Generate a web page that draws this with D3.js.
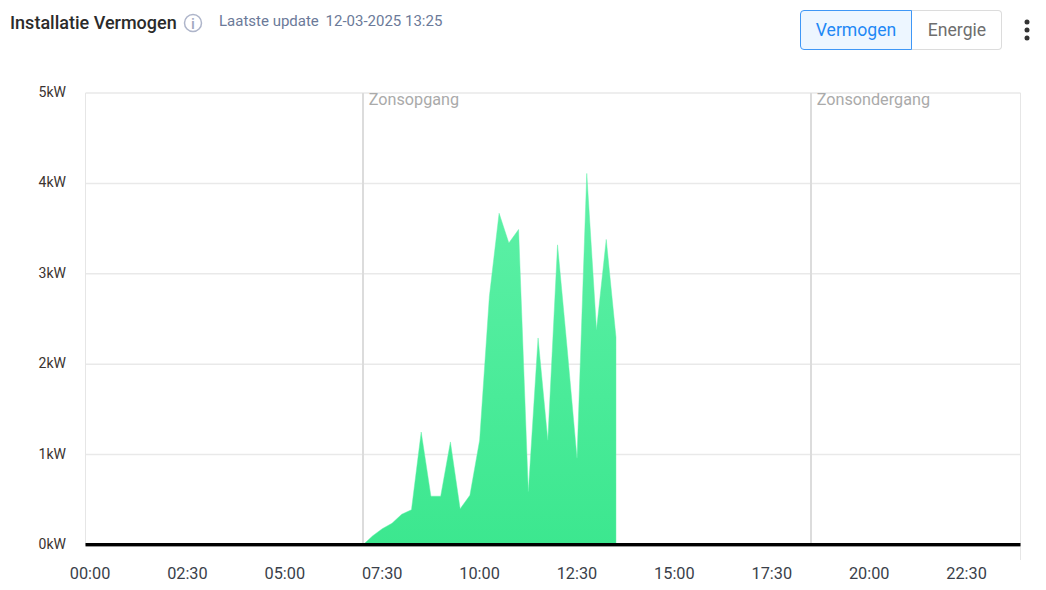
<!DOCTYPE html>
<html>
<head>
<meta charset="utf-8">
<script src="https://cdn.jsdelivr.net/npm/d3@7"></script>
<style>
  html, body { margin: 0; padding: 0; background: #fff; }
  #chart { position: relative; width: 1046px; height: 590px; overflow: hidden; font-family: Roboto, sans-serif; }
  svg { position: absolute; left: 0; top: 0; }
  .title { position: absolute; left: 10px; top: 13px; font-size: 18px; font-weight: 500; color: #2b2b2b; line-height: 20px; }
  .update { position: absolute; left: 219px; top: 11px; font-size: 15px; color: #6b7a99; line-height: 20px; }
  .update span { margin-left: 3px; }
  .btn { position: absolute; top: 10px; height: 38px; line-height: 38px; text-align: center; font-size: 17.6px; border: 1px solid #dcdcdc; }
  .btn.on { left: 800px; width: 110px; color: #1e88f5; background: #edf6ff; border-color: #3f97f6; border-radius: 4px 0 0 4px; z-index: 1; }
  .btn.off { left: 911px; width: 90px; padding-left: 2px; box-sizing: content-box; width: 88px; color: #6e6e6e; border-left: none; border-radius: 0 4px 4px 0; }
</style>
</head>
<body>
<div id="chart">
  <div class="title">Installatie Vermogen</div>
  <div class="update">Laatste update <span>12-03-2025 13:25</span></div>
  <div class="btn on">Vermogen</div>
  <div class="btn off">Energie</div>
</div>
<script>
// values
var times = ["07:07","07:22","07:37","07:52","08:07","08:22","08:37","08:52","09:07","09:22","09:37","09:52","10:07",
  "10:22","10:37","10:52","11:07","11:22","11:37","11:52","12:07","12:22","12:37","12:52","13:07","13:22","13:37"];
var power = [0, 0.1, 0.18, 0.24, 0.34, 0.39, 1.25, 0.54, 0.54, 1.14, 0.40, 0.55, 1.16,
  2.75, 3.67, 3.34, 3.49, 0.59, 2.29, 1.16, 3.32, 2.16, 0.96, 4.11, 2.38, 3.38, 2.30];
var xTickLabels = ["00:00","02:30","05:00","07:30","10:00","12:30","15:00","17:30","20:00","22:30"];
var yTickValues = [0, 1, 2, 3, 4, 5];
var sunNames = ["Zonsopgang", "Zonsondergang"];
var sunTimes = ["07:07", "18:37"];
var dayRange = ["00:00", "24:00"];

var toMinutes = function (t) {
  var p = t.split(":");
  return +p[0] * 60 + +p[1];
};

var margin = { top: 93, right: 25.5, bottom: 45, left: 85.5 },
  width = 1046 - margin.left - margin.right,
  height = 590 - margin.top - margin.bottom;

var svg = d3.select("#chart").append("svg")
  .attr("width", 1046)
  .attr("height", 590);

var g = svg.append("g")
  .attr("transform", "translate(" + margin.left + "," + margin.top + ")");

var x = d3.scaleLinear().domain([0, 1440]).range([0, width]);
var y = d3.scaleLinear().domain([0, 5]).range([height, 0]);

var grad = svg.append("defs").append("linearGradient")
  .attr("id", "fillGrad")
  .attr("x1", 0).attr("y1", 0).attr("x2", 0).attr("y2", 1);
grad.append("stop").attr("offset", "0%").attr("stop-color", "#5ff1a8");
grad.append("stop").attr("offset", "100%").attr("stop-color", "#3ce78f");

// grid
g.selectAll(".hgrid").data(yTickValues).enter().append("line")
  .attr("x1", 0).attr("x2", width)
  .attr("y1", function (d) { return y(d); })
  .attr("y2", function (d) { return y(d); })
  .attr("stroke", "#e9e9e9")
  .attr("stroke-width", 1.5);
g.append("line")
  .attr("x1", 0).attr("x2", 0).attr("y1", 0).attr("y2", height)
  .attr("stroke", "#e6e6e6");
g.append("line")
  .attr("x1", width).attr("x2", width).attr("y1", 0).attr("y2", height + 15)
  .attr("stroke", "#e6e6e6");

// sunrise and sunset
g.selectAll(".sunline").data(sunTimes).enter().append("line")
  .attr("x1", function (d) { return x(toMinutes(d)) + 0.25; })
  .attr("x2", function (d) { return x(toMinutes(d)) + 0.25; })
  .attr("y1", 0).attr("y2", height)
  .attr("stroke", "#dcdcdc")
  .attr("stroke-width", 2);
g.selectAll(".sunlabel").data(sunNames).enter().append("text")
  .attr("x", function (d, i) { return x(toMinutes(sunTimes[i])) + 6; })
  .attr("y", 12)
  .attr("font-size", 16.2)
  .attr("fill", "#aaaaaa")
  .text(function (d) { return d; });

// power area, soft edge like the original
var series = times.map(function (t, i) { return { t: toMinutes(t), v: power[i] }; });
g.append("path")
  .datum(series)
  .attr("fill", "url(#fillGrad)")
  .attr("stroke", "#5ff1a8")
  .attr("stroke-opacity", 0.45)
  .attr("stroke-width", 1)
  .attr("d", d3.area()
    .x(function (d) { return x(d.t); })
    .y0(y(0))
    .y1(function (d) { return y(d.v); }));

// zero line with a thin grey edge under it
g.append("path")
  .datum(dayRange)
  .attr("fill", "none")
  .attr("stroke", "#999")
  .attr("stroke-width", 1)
  .attr("d", d3.line()
    .x(function (d) { return x(toMinutes(d)); })
    .y(y(0) + 1.5));
g.append("path")
  .datum(dayRange)
  .attr("fill", "none")
  .attr("stroke", "#000")
  .attr("stroke-width", 3)
  .attr("d", d3.line()
    .x(function (d) { return x(toMinutes(d)); })
    .y(y(0) - 0.5));

// axes
var xAxis = g.append("g")
  .attr("transform", "translate(0," + height + ")")
  .call(d3.axisBottom(x)
    .tickValues(xTickLabels.map(toMinutes))
    .tickFormat(function (d) { return xTickLabels[xTickLabels.map(toMinutes).indexOf(d)]; })
    .tickSize(0));
xAxis.select(".domain").remove();
xAxis.selectAll("text")
  .attr("x", 4)
  .attr("y", 22.5)
  .attr("dy", "0.71em")
  .attr("font-family", "Roboto, sans-serif")
  .attr("font-size", 16.3)
  .attr("fill", "#3a3f4a");

var yAxis = g.append("g")
  .call(d3.axisLeft(y)
    .tickValues(yTickValues)
    .tickFormat(function (d) { return d + "kW"; })
    .tickSize(0));
yAxis.select(".domain").remove();
yAxis.selectAll("text")
  .attr("x", -19.5)
  .attr("y", -1)
  .attr("font-family", "Roboto, sans-serif")
  .attr("font-size", 14)
  .attr("fill", "#3b3330");

// info icon
var info = svg.append("g").attr("transform", "translate(193,23)");
info.append("circle").attr("r", 8.5).attr("fill", "none").attr("stroke", "#aeb5ca").attr("stroke-width", 1.5);
info.append("text").attr("text-anchor", "middle").attr("y", 5.5).attr("font-size", 15).attr("font-weight", 500)
  .attr("fill", "#a2a9bf").text("i");

// menu dots
svg.append("g").selectAll("circle").data([-8, 0, 8]).enter().append("circle")
  .attr("cx", 1027).attr("cy", function (d) { return 30 + d; })
  .attr("r", 2.5).attr("fill", "#333");
</script>
</body>
</html>
